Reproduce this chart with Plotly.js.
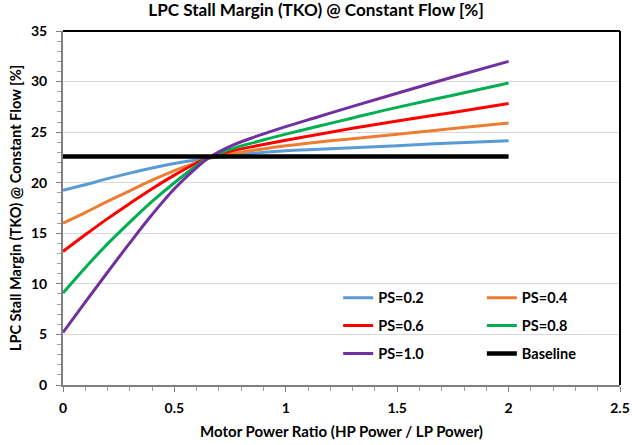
<!DOCTYPE html>
<html>
<head>
<meta charset="utf-8">
<script src="https://cdn.plot.ly/plotly-3.0.1.min.js"></script>
<style>html,body{margin:0;padding:0;background:#fff;}#chart{width:632px;height:445px;}</style>
</head>
<body>
<div id="chart"></div>
<script>
// Motor power ratio sample points
const xVals = [0, 0.1, 0.2, 0.3, 0.4, 0.5, 0.6, 0.65, 0.75, 0.87, 1.0, 1.15, 1.3, 1.5, 1.75, 2.0];
const ps02 = [19.25, 19.8, 20.4, 20.95, 21.45, 21.9, 22.25, 22.42, 22.7, 22.95, 23.15, 23.3, 23.45, 23.66, 23.93, 24.16];
const ps04 = [16.0, 17.05, 18.15, 19.2, 20.25, 21.2, 22.0, 22.4, 22.85, 23.25, 23.65, 24.03, 24.35, 24.8, 25.35, 25.9];
const ps06 = [13.2, 14.85, 16.45, 17.95, 19.4, 20.75, 21.95, 22.45, 23.1, 23.65, 24.2, 24.8, 25.38, 26.1, 26.95, 27.83];
const ps08 = [9.1, 11.6, 13.95, 16.1, 18.15, 20.0, 21.7, 22.45, 23.3, 24.05, 24.8, 25.6, 26.4, 27.45, 28.65, 29.86];
const ps10 = [5.2, 8.2, 11.15, 14.05, 16.85, 19.4, 21.5, 22.4, 23.6, 24.6, 25.55, 26.55, 27.55, 28.85, 30.45, 32.0];
const baseX = [0, 2];
const baseY = [22.6, 22.6];
const names = ["PS=0.2", "PS=0.4", "PS=0.6", "PS=0.8", "PS=1.0", "Baseline"];
const colors = ["#5B9BD5", "#ED7D31", "#FF0000", "#00B050", "#7030A0", "#000000"];

const series = [ps02, ps04, ps06, ps08, ps10];
const legendOf = ["legend", "legend2", "legend", "legend2", "legend", "legend2"];
const traces = series.map((ys, i) => ({
  x: xVals, y: ys, type: "scatter", mode: "lines", name: names[i],
  line: {color: colors[i], width: 3, shape: "spline", smoothing: 1},
  legend: legendOf[i], legendgroup: "g" + i
}));
traces.push({
  x: baseX, y: baseY, type: "scatter", mode: "lines", name: names[5],
  line: {color: colors[5], width: 4.5}, legend: legendOf[5], legendgroup: "g5"
});

const fnt = "Lato, 'Open Sans', sans-serif";
const legendBase = {
  orientation: "v", xanchor: "left", yanchor: "top", y: 0.2915,
  bgcolor: "rgba(0,0,0,0)", traceorder: "grouped", tracegroupgap: 6,
  font: {family: fnt, size: 14.5, color: "#000", weight: "bold"}
};
const layout = {
  width: 632, height: 445,
  margin: {l: 63, r: 12, t: 31, b: 60},
  paper_bgcolor: "#fff", plot_bgcolor: "#fff",
  font: {family: fnt, color: "#000"},
  title: {text: "<b>LPC Stall Margin (TKO) @ Constant Flow [%]</b>", x: 0.5, xanchor: "center", y: 0.99, yanchor: "top",
    font: {family: fnt, size: 17.1, color: "#000"}},
  xaxis: {
    range: [0, 2.5], dtick: 0.5, tick0: 0, showgrid: false, zeroline: false,
    showline: true, linecolor: "#808080", linewidth: 2,
    ticks: "outside", ticklen: 5, tickcolor: "#808080", ticklabelstandoff: 4,
    minor: {dtick: 0.1, ticks: "outside", ticklen: 4, tickcolor: "#a0a0a0", showgrid: false},
    tickfont: {family: fnt, size: 14, color: "#000", weight: "bold"},
    title: {text: "<b>Motor Power Ratio (HP Power / LP Power)</b>", font: {family: fnt, size: 15, color: "#000"}, standoff: 12}
  },
  yaxis: {
    range: [0, 35], dtick: 5, tick0: 0, showgrid: true, gridcolor: "#d9d9d9", gridwidth: 1, zeroline: false,
    showline: true, linecolor: "#808080", linewidth: 2,
    ticks: "outside", ticklen: 5, tickcolor: "#808080", ticklabelstandoff: 6,
    minor: {dtick: 1, ticks: "outside", ticklen: 4, tickcolor: "#a0a0a0", showgrid: false},
    tickfont: {family: fnt, size: 14, color: "#000", weight: "bold"},
    title: {text: "<b>LPC Stall Margin (TKO) @ Constant Flow [%]</b>", font: {family: fnt, size: 14.6, color: "#000"}, standoff: 6}
  },
  legend: Object.assign({}, legendBase, {x: 0.494}),
  legend2: Object.assign({}, legendBase, {x: 0.752}),
  shapes: [
    {type: "line", xref: "paper", yref: "paper", x0: 0, x1: 1, y0: 1, y1: 1, line: {color: "#000", width: 2}},
    {type: "line", xref: "paper", yref: "paper", x0: 1, x1: 1, y0: 0, y1: 1, line: {color: "#000", width: 2}}
  ],
  showlegend: true
};
Plotly.newPlot("chart", traces, layout, {displayModeBar: false, staticPlot: true});
</script>
</body>
</html>
